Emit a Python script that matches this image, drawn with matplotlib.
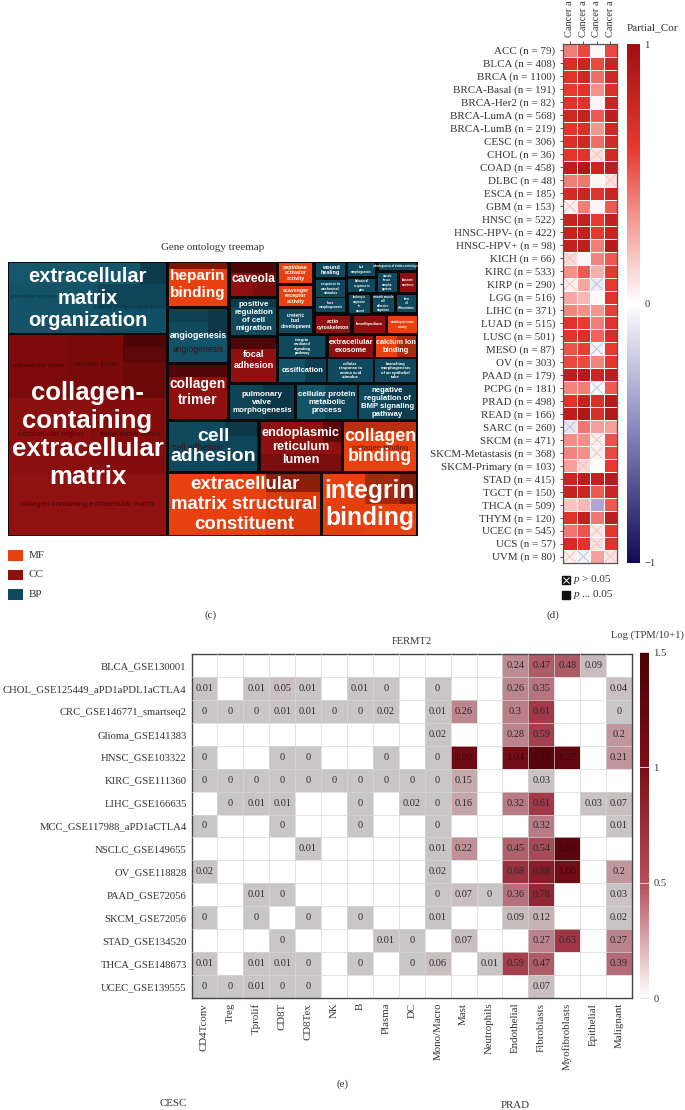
import numpy as np
import matplotlib
matplotlib.use("Agg")
import matplotlib.pyplot as plt
from matplotlib.colors import LinearSegmentedColormap, Normalize
from matplotlib.cm import ScalarMappable
from matplotlib.patches import Rectangle

plt.rcParams["font.family"] = "Liberation Serif"

W, H = 685, 1110

# panel c, treemap tiles
tile_names = [
    "extracellular\nmatrix\norganization", "collagen-\ncontaining\nextracellular\nmatrix",
    "heparin\nbinding", "angiogenesis", "collagen\ntrimer", "caveola",
    "positive\nregulation\nof cell\nmigration", "focal\nadhesion",
    "pulmonary\nvalve\nmorphogenesis", "cellular protein\nmetabolic\nprocess",
    "negative\nregulation of\nBMP signaling\npathway", "peptidase\nactivator\nactivity",
    "scavenger\nreceptor\nactivity", "ureteric\nbud\ndevelopment", "wound\nhealing",
    "response to\nmechanical\nstimulus", "face\nmorphogenesis", "actin\ncytoskeleton",
    "lamellipodium", "integrin\nmediated\nsignaling\npathway", "extracellular\nexosome",
    "calcium ion\nbinding", "ossification", "cellular\nresponse to\namino acid\nstimulus",
    "branching\nmorphogenesis\nof an epithelial\ntube", "cell\nadhesion",
    "endoplasmic\nreticulum\nlumen", "collagen\nbinding",
    "extracellular\nmatrix structural\nconstituent", "integrin\nbinding",
    "bud\nmorphogenesis", "behavioral\nresponse to\npain", "leukocyte\nmigration\nin\nwound",
    "odontogenesis of dentin-containing tooth", "muscle\ntissue\nmorpho-\ngenesis",
    "basement\nmembrane", "smooth muscle\ncell\nadhesion\nmigration", "bone\ncell\ndifferentiation",
    "metalloproteinase\nactivity",
]
tile_groups = [
    "BP", "CC", "MF", "BP", "CC", "CC", "BP", "CC", "BP", "BP", "BP", "MF", "MF", "BP", "BP",
    "BP", "BP", "CC", "CC", "BP", "CC", "MF", "BP", "BP", "BP", "BP", "CC", "MF", "MF", "MF",
    "BP", "BP", "BP", "BP", "BP", "CC", "BP", "BP", "MF",
]
faint_names = [
    "extracellular space", "vacuolar lumen", "extracellular region", "extracellular matrix",
    "collagen-containing extracellular matrix", "angiogenesis", "cell adhesion", "collagen binding",
    "extracellular structure", "external encapsulating structure",
]
group_names = ["MF", "CC", "BP"]
group_colors = ["#e8400f", "#8e1010", "#10495d"]

# panel d
cancer_labels = [
    "ACC (n = 79)", "BLCA (n = 408)", "BRCA (n = 1100)", "BRCA-Basal (n = 191)", "BRCA-Her2 (n = 82)",
    "BRCA-LumA (n = 568)", "BRCA-LumB (n = 219)", "CESC (n = 306)", "CHOL (n = 36)", "COAD (n = 458)",
    "DLBC (n = 48)", "ESCA (n = 185)", "GBM (n = 153)", "HNSC (n = 522)", "HNSC-HPV- (n = 422)",
    "HNSC-HPV+ (n = 98)", "KICH (n = 66)", "KIRC (n = 533)", "KIRP (n = 290)", "LGG (n = 516)",
    "LIHC (n = 371)", "LUAD (n = 515)", "LUSC (n = 501)", "MESO (n = 87)", "OV (n = 303)",
    "PAAD (n = 179)", "PCPG (n = 181)", "PRAD (n = 498)", "READ (n = 166)", "SARC (n = 260)",
    "SKCM (n = 471)", "SKCM-Metastasis (n = 368)", "SKCM-Primary (n = 103)", "STAD (n = 415)",
    "TGCT (n = 150)", "THCA (n = 509)", "THYM (n = 120)", "UCEC (n = 545)", "UCS (n = 57)", "UVM (n = 80)",
]
partial_cor = [
    [.40, .55, .02, .55], [.70, .78, .55, .78], [.65, .75, .45, .75], [.60, .65, .35, .68],
    [.65, .65, .03, .78], [.75, .80, .50, .85], [.62, .68, .33, .75], [.68, .75, .45, .72],
    [.62, .65, .10, .72], [.85, .90, .78, .85], [.40, .42, .03, .10], [.72, .78, .65, .78],
    [.05, .40, .03, .50], [.80, .82, .60, .82], [.80, .82, .60, .80], [.82, .85, .40, .88],
    [.12, .03, .38, .50], [.35, .50, .25, .60], [.05, .28, -.08, .60], [.28, .22, .02, .65],
    [.38, .35, .33, .58], [.65, .60, .40, .65], [.65, .68, .48, .70], [.52, .58, -.05, .60],
    [.55, .55, .38, .62], [.85, .88, .78, .85], [.38, .40, -.03, .50], [.65, .80, .68, .88],
    [.85, .92, .70, .90], [-.10, .42, .30, .30], [.35, .35, .05, .52], [.38, .35, .05, .55],
    [.30, .12, .01, .60], [.78, .85, .82, .88], [.80, .78, .50, .78], [.18, .22, -.35, .50],
    [.65, .82, .42, .85], [.42, .52, .08, .62], [.72, .65, .10, .65], [.05, -.05, .30, .08],
]
not_significant = [
    (8, 2), (10, 3), (12, 0), (16, 0), (18, 0), (18, 2), (23, 2), (26, 2), (29, 0), (30, 2),
    (31, 2), (32, 1), (37, 2), (38, 2), (39, 0), (39, 1), (39, 3),
]

# panel e
datasets = [
    "BLCA_GSE130001", "CHOL_GSE125449_aPD1aPDL1aCTLA4", "CRC_GSE146771_smartseq2", "Glioma_GSE141383",
    "HNSC_GSE103322", "KIRC_GSE111360", "LIHC_GSE166635", "MCC_GSE117988_aPD1aCTLA4", "NSCLC_GSE149655",
    "OV_GSE118828", "PAAD_GSE72056", "SKCM_GSE72056", "STAD_GSE134520", "THCA_GSE148673", "UCEC_GSE139555",
]
cell_types = [
    "CD4Tconv", "Treg", "Tprolif", "CD8T", "CD8Tex", "NK", "B", "Plasma", "DC", "Mono/Macro", "Mast",
    "Neutrophils", "Endothelial", "Fibroblasts", "Myofibroblasts", "Epithelial", "Malignant",
]
n = np.nan
tpm = [
    [n, n, n, n, n, n, n, n, n, n, n, n, .24, .47, .48, .09, n],
    [.01, n, .01, .05, .01, n, .01, 0, n, 0, n, n, .26, .35, n, n, .04],
    [0, 0, 0, .01, .01, 0, 0, .02, n, .01, .26, n, .3, .61, n, n, 0],
    [n, n, n, n, n, n, n, n, n, .02, n, n, .28, .59, n, n, .2],
    [0, n, n, 0, 0, n, n, 0, n, 0, 1.09, n, 1.04, 1.36, 1.27, n, .21],
    [0, 0, 0, 0, 0, 0, 0, 0, 0, 0, .15, n, n, .03, n, n, n],
    [n, 0, .01, .01, n, n, 0, n, .02, 0, .16, n, .32, .61, n, .03, .07],
    [0, n, n, 0, n, n, 0, n, n, 0, n, n, n, .32, n, n, .01],
    [n, n, n, n, .01, n, n, n, n, .01, .22, n, .45, .54, 1.32, n, n],
    [.02, n, n, n, n, n, n, n, n, .02, n, n, .68, .88, 1.06, n, .2],
    [n, n, .01, 0, n, n, n, n, n, 0, .07, 0, .36, .78, n, n, .03],
    [0, n, 0, n, 0, n, 0, n, n, .01, n, n, .09, .12, n, n, .02],
    [n, n, n, 0, n, n, n, .01, 0, n, .07, n, n, .27, .63, n, .27],
    [.01, n, .01, .01, 0, n, 0, n, 0, .06, n, .01, .59, .47, n, n, .39],
    [0, 0, .01, 0, 0, n, n, n, n, n, n, n, n, .07, n, n, n],
]

# layout of the treemap, in image pixels: x0, y0, x1, y1, font size
tile_boxes = [
    (9, 263, 166, 333, 14.5), (9, 335, 166, 535, 18.5), (169, 263, 227, 306, 11), (169, 309, 227, 362, 6.4),
    (169, 365, 227, 419, 10), (231, 263, 276, 296, 8.6), (231, 299, 276, 335, 5.8), (231, 338, 276, 382, 6.6),
    (230, 385, 294, 419, 5.8), (297, 385, 357, 419, 5.8), (359, 385, 416, 419, 5.6), (279, 263, 312, 283, 3.8),
    (279, 286, 312, 306, 3.8), (279, 309, 312, 333, 3.5), (316, 263, 345, 277, 4), (316, 280, 345, 297, 2.4),
    (316, 298, 345, 312, 2.3), (316, 316, 350, 333, 3.8), (354, 316, 385, 333, 2.9), (279, 336, 325, 357, 2.8),
    (329, 336, 373, 357, 5.4), (376, 336, 416, 357, 5.2), (279, 359, 326, 382, 5.4), (328, 359, 373, 382, 3),
    (375, 359, 416, 382, 3), (169, 422, 257, 471, 14), (261, 422, 341, 471, 9.2), (344, 422, 416, 471, 12.8),
    (169, 474, 320, 535, 13.4), (323, 474, 416, 535, 17.8), (348, 263, 375, 276, 2), (348, 279, 375, 292, 2),
    (349, 295, 370, 313, 2), (379, 263, 416, 270, 1.8), (378, 273, 397, 292, 2), (400, 273, 416, 292, 1.8),
    (373, 295, 394, 312, 2), (397, 295, 416, 312, 1.8), (388, 316, 417, 333, 2),
]
faint_pos = [
    (38, 365), (96, 365), (50, 435), (130, 435), (88, 504), (198, 349), (198, 447), (380, 449),
    (32, 297), (132, 307),
]
faint_sizes = [4.4, 4.9, 5.6, 5.2, 5.6, 6.2, 6.2, 5.6, 3.6, 4]
faint_colors = ["#3a0505"] * 8 + ["#07303f"] * 2
shade_boxes = [
    (9, 263, 140, 284, "#14566a"), (140, 263, 166, 284, "#0d3b4c"), (9, 284, 98, 333, "#135267"),
    (98, 284, 166, 307, "#0f4558"), (98, 307, 166, 333, "#115064"),
    (9, 335, 68, 398, "#7d0b0b"), (68, 335, 123, 398, "#7a0a0a"), (123, 335, 166, 347, "#4f0606"),
    (123, 347, 166, 362, "#5c0808"), (123, 362, 166, 398, "#6c0909"),
    (9, 398, 91, 474, "#8a0f0f"), (91, 398, 166, 474, "#840d0d"), (9, 474, 166, 535, "#901210"),
    (169, 263, 227, 269, "#7d1505"), (169, 309, 208, 322, "#0e4154"), (208, 309, 227, 335, "#0d3848"),
    (169, 322, 208, 335, "#0f4a5d"), (169, 335, 227, 362, "#135369"),
    (169, 365, 227, 377, "#520606"), (231, 263, 276, 273, "#4f0606"), (253, 273, 276, 296, "#7a0c0c"),
    (231, 299, 276, 307, "#0c3a4b"), (231, 338, 276, 349, "#4f0606"), (297, 385, 325, 419, "#135469"),
    (325, 385, 357, 419, "#0e4558"), (230, 385, 263, 419, "#0e4255"), (263, 385, 294, 419, "#0c3647"),
    (359, 385, 390, 419, "#0f4a5e"), (390, 385, 416, 419, "#0c3c4e"), (279, 359, 305, 382, "#135267"),
    (305, 359, 326, 382, "#0d3e50"), (225, 422, 257, 471, "#0f4558"), (225, 422, 257, 436, "#0c3848"),
    (323, 422, 341, 442, "#5a0707"), (261, 454, 341, 471, "#7a0d0d"), (344, 422, 416, 432, "#b63010"),
    (266, 474, 320, 492, "#8e1f0a"), (266, 492, 320, 535, "#dc3a0d"), (365, 474, 416, 504, "#a52a0c"),
    (400, 474, 416, 504, "#84170a"), (323, 504, 365, 535, "#e23e0e"), (376, 336, 397, 357, "#e8400f"),
    (397, 336, 416, 357, "#a52c0c"),
]


def px_axes(x0, y0, x1, y1):
    # axes from image pixels, y counted from the top
    return fig.add_axes([x0 / W, 1 - y1 / H, (x1 - x0) / W, (y1 - y0) / H])


fig = plt.figure(figsize=(W / 100, H / 100), dpi=100, facecolor="white")

# whole-figure axes in pixels, for the treemap and free text
bg = px_axes(0, 0, W, H)
bg.set_xlim(0, W)
bg.set_ylim(H, 0)
bg.axis("off")

colors = dict(zip(group_names, group_colors))
bg.add_patch(Rectangle((8, 262), 410, 274, fc="#0a0a0a", ec="none"))
for box, group in zip(tile_boxes, tile_groups):
    bg.add_patch(Rectangle((box[0], box[1]), box[2] - box[0], box[3] - box[1], fc=colors[group], ec="none"))
for x0, y0, x1, y1, c in shade_boxes:
    bg.add_patch(Rectangle((x0, y0), x1 - x0, y1 - y0, fc=c, ec="none"))
for (fx, fy), name, size, c in zip(faint_pos, faint_names, faint_sizes, faint_colors):
    bg.text(fx, fy, name, ha="center", va="center", fontsize=size, color=c,
            family="Liberation Sans", alpha=0.8)
for box, name in zip(tile_boxes, tile_names):
    bg.text((box[0] + box[2]) / 2, (box[1] + box[3]) / 2, name, ha="center", va="center",
            fontsize=box[4], color="white", family="Liberation Sans", weight="bold", linespacing=1.2)

for i, (name, c) in enumerate(zip(group_names, group_colors)):
    y = 550 + i * 19.7
    bg.add_patch(Rectangle((8, y), 15.5, 10.5, fc=c, ec="none"))
    bg.text(29, y + 5, name, va="center", fontsize=8, color="#333333")

bg.text(213, 247, "Gene ontology treemap", ha="center", va="center", fontsize=7.9, color="#333333")
bg.text(211, 615, "(c)", ha="center", va="center", fontsize=8, color="#333333")
bg.text(553, 615, "(d)", ha="center", va="center", fontsize=8, color="#333333")
bg.text(343, 1084, "(e)", ha="center", va="center", fontsize=8, color="#333333")
bg.text(173, 1103, "CESC", ha="center", va="center", fontsize=7.8, color="#333333")
bg.text(515, 1105, "PRAD", ha="center", va="center", fontsize=7.8, color="#333333")
bg.text(412, 642, "FERMT2", ha="center", va="center", fontsize=7.6, color="#333333")
bg.text(611, 635, "Log (TPM/10+1)", ha="left", va="center", fontsize=7.6, color="#333333", clip_on=False)
bg.text(627, 28, "Partial_Cor", ha="left", va="center", fontsize=8, color="#333333")

# p value key of panel d
bg.plot([566.5], [580], marker="s", ms=5.5, color="#111111")
bg.plot([566.5], [580], marker="x", ms=4, mew=0.7, color="white")
bg.plot([566.5], [595], marker="s", ms=5.5, color="#111111")
bg.text(574, 579.5, "p", style="italic", va="center", fontsize=8, color="#333333")
bg.text(582, 579.5, "> 0.05", va="center", fontsize=8, color="#333333")
bg.text(574, 594.5, "p", style="italic", va="center", fontsize=8, color="#333333")
bg.text(582, 594.5, "... 0.05", va="center", fontsize=8, color="#333333")

# panel d heatmap
cor_cmap = LinearSegmentedColormap.from_list(
    "cor", [(0, "#120a55"), (0.25, "#8583bd"), (0.5, "#ffffff"), (0.66, "#f49a95"),
            (0.8, "#e8392f"), (1, "#a40d12")])
cor = np.array(partial_cor)
ax_d = px_axes(563, 44, 617, 563)
ax_d.pcolormesh(cor, cmap=cor_cmap, vmin=-1, vmax=1, edgecolors="white", linewidth=0.7)
for r, c in not_significant:
    shade = "#b9c6e0" if cor[r, c] < 0 else "#f0c4bb"
    ax_d.plot([c + 0.1, c + 0.9], [r + 0.1, r + 0.9], color=shade, lw=0.7)
    ax_d.plot([c + 0.1, c + 0.9], [r + 0.9, r + 0.1], color=shade, lw=0.7)
ax_d.set_xlim(0, 4)
ax_d.set_ylim(40, 0)
ax_d.set_yticks(np.arange(40) + 0.5)
ax_d.set_yticklabels(cancer_labels, fontsize=7.9, color="#333333")
ax_d.xaxis.tick_top()
ax_d.set_xticks(np.arange(4) + 0.5)
ax_d.set_xticklabels(["Cancer a"] * 4, rotation=90, fontsize=7.5, color="#333333", ha="center", va="bottom")
ax_d.tick_params(axis="y", length=2.5, width=0.7, color="#555555", pad=3)
ax_d.tick_params(axis="x", length=2.5, width=0.7, color="#555555", pad=2.5)
for s in ax_d.spines.values():
    s.set_color("#555555")
    s.set_linewidth(0.9)

cax_d = px_axes(627, 44, 640, 563)
cb_d = fig.colorbar(ScalarMappable(Normalize(-1, 1), cor_cmap), cax=cax_d)
cb_d.set_ticks([-1, 0, 1])
cb_d.set_ticklabels(["\u22121", "0", "1"], fontsize=7.6, color="#333333")
cb_d.ax.tick_params(length=0, pad=3)
cb_d.outline.set_visible(False)

# panel e heatmap, cells start from grey while the colour bar starts from white
cell_cmap = LinearSegmentedColormap.from_list(
    "cells", [(0, "#c9c6c8"), (0.06, "#c9bcbe"), (0.16, "#bd8a92"), (0.32, "#ad5a66"),
              (0.42, "#a03545"), (0.6, "#861a26"), (0.72, "#6f0a14"), (1, "#4c0208")])
bar_cmap = LinearSegmentedColormap.from_list(
    "bar", [(0, "#ffffff"), (0.33, "#b4505c"), (0.66, "#7d0f1a"), (1, "#4a0106")])
values = np.ma.masked_invalid(np.array(tpm, dtype=float))
ax_e = px_axes(191.5, 654, 632, 998)
ax_e.pcolormesh(values, cmap=cell_cmap, vmin=0, vmax=1.5)
ax_e.set_xlim(0, 17)
ax_e.set_ylim(15, 0)
ax_e.set_xticks(np.arange(1, 17), minor=True)
ax_e.set_yticks(np.arange(1, 15), minor=True)
ax_e.grid(which="minor", color="#d6d6d6", lw=0.5)
ax_e.set_axisbelow(False)
ax_e.tick_params(which="minor", length=0)
ax_e.set_xticks(np.arange(17) + 0.5)
ax_e.set_xticklabels(cell_types, rotation=90, fontsize=7.8, color="#333333")
ax_e.set_yticks(np.arange(15) + 0.5)
ax_e.set_yticklabels(datasets, fontsize=7.7, color="#333333")
ax_e.tick_params(which="major", length=0, pad=3.5)
for s in ax_e.spines.values():
    s.set_color("#444444")
    s.set_linewidth(1.0)
for r in range(15):
    for c in range(17):
        v = tpm[r][c]
        if not np.isnan(v):
            ax_e.text(c + 0.5, r + 0.5, f"{v:g}", ha="center", va="center", fontsize=7.4,
                      color="#3c060c" if v >= 1 else "#2a2a2a")

cax_e = px_axes(639.5, 652, 649, 998)
cb_e = fig.colorbar(ScalarMappable(Normalize(0, 1.5), bar_cmap), cax=cax_e)
cb_e.set_ticks([0, 0.5, 1, 1.5])
cb_e.set_ticklabels(["0", "0.5", "1", "1.5"], fontsize=7.6, color="#333333")
cb_e.ax.tick_params(direction="in", length=7, width=0.7, color="#f0d8d8", pad=3)
cb_e.outline.set_visible(False)

fig.savefig("out.png", dpi=100)
